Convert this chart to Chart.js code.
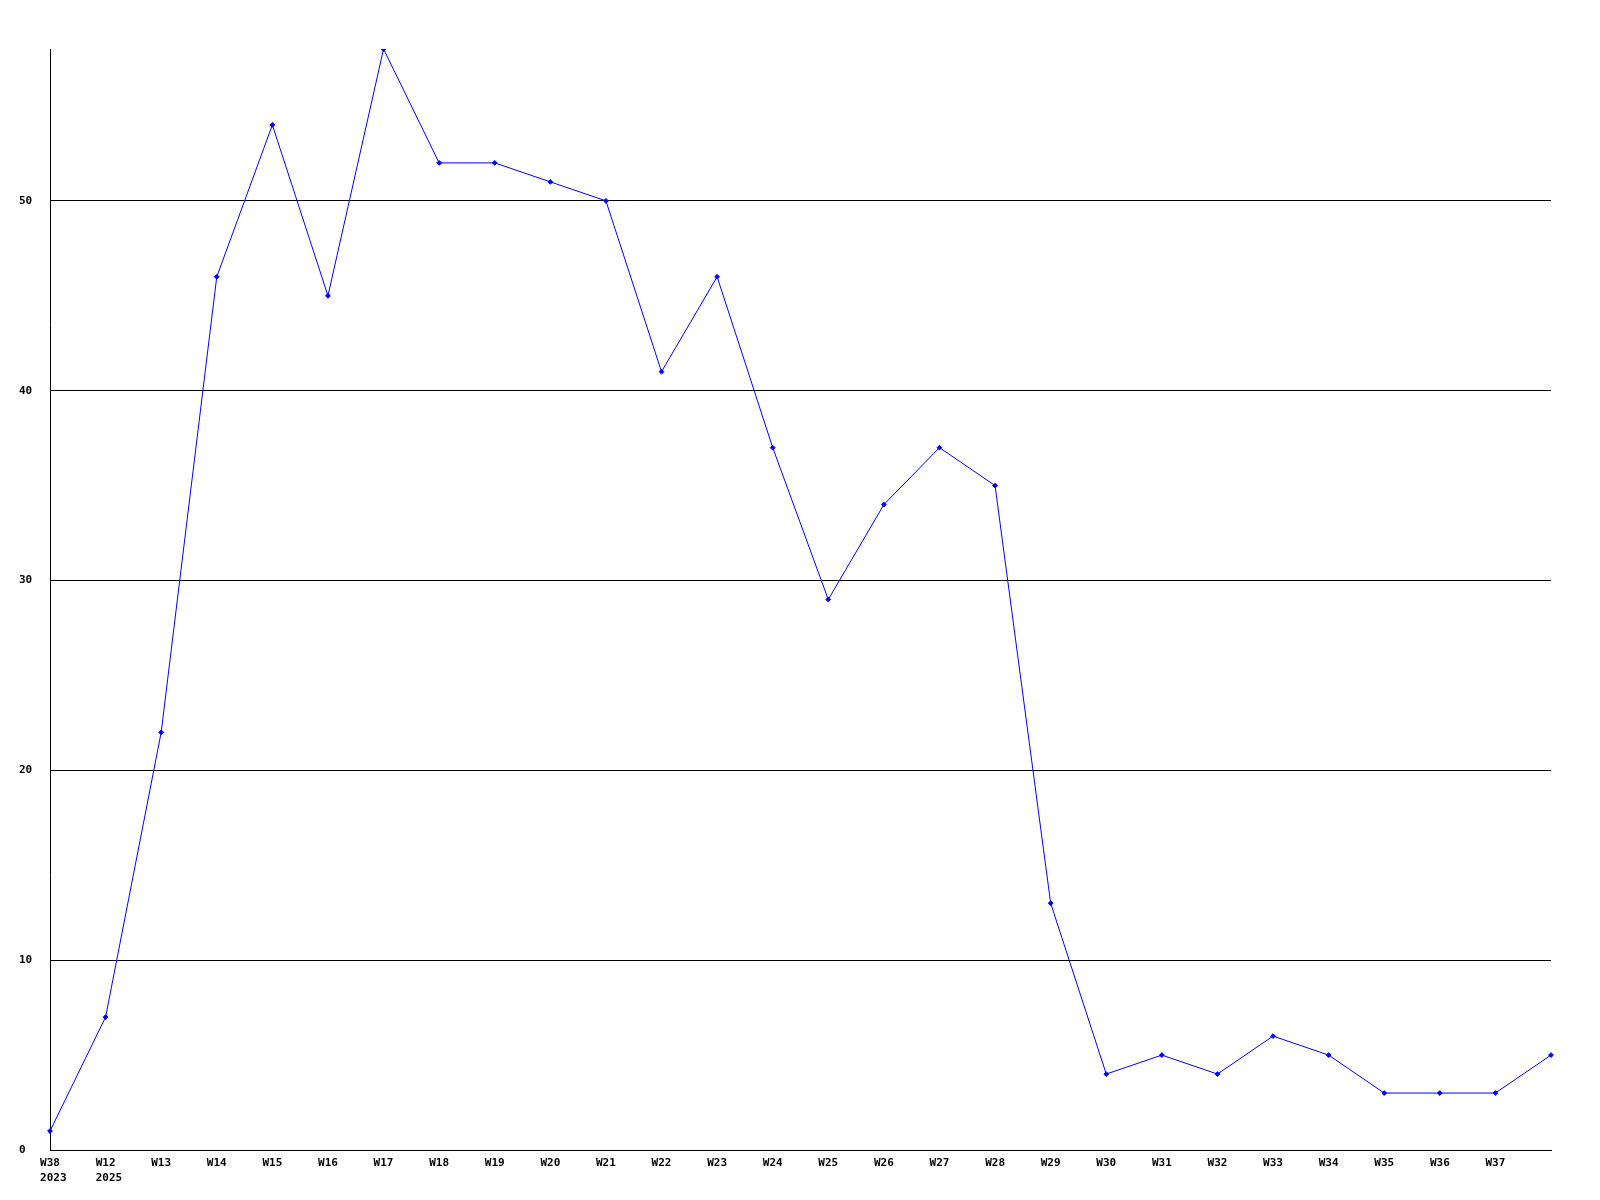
<!DOCTYPE html>
<html>
<head>
<meta charset="utf-8">
<script src="https://cdn.jsdelivr.net/npm/chart.js@4/dist/chart.umd.min.js"></script>
<style>
html,body{margin:0;padding:0;background:#fff;}
#wrap{width:1600px;height:1200px;position:relative;}
</style>
</head>
<body>
<div id="wrap"><canvas id="c" width="1600" height="1200"></canvas></div>
<script>
const categories = [
  ['W38',' 2023'], ['W12',' 2025'], 'W13','W14','W15','W16','W17','W18','W19','W20',
  'W21','W22','W23','W24','W25','W26','W27','W28','W29','W30',
  'W31','W32','W33','W34','W35','W36','W37',''
];
const values = [1,7,22,46,54,45,58,52,52,51,50,41,46,37,29,34,37,35,13,4,5,4,6,5,3,3,3,5];
const yTicks = [0,10,20,30,40,50];
const yMax = 58;

const tickFont = {family:'"DejaVu Sans Mono", monospace', size:11, weight:'bold', lineHeight:1.36};

new Chart(document.getElementById('c'), {
  type:'line',
  data:{
    labels:categories,
    datasets:[{
      data:values,
      borderColor:'#0000ff',
      backgroundColor:'#0000ff',
      borderWidth:1,
      pointStyle:'rectRot',
      pointRadius:2.4,
      pointBorderWidth:1,
      tension:0,
      fill:false
    }]
  },
  options:{
    responsive:false,
    animation:false,
    devicePixelRatio:1,
    layout:{padding:{left:19,top:49,right:49,bottom:0}},
    plugins:{legend:{display:false},tooltip:{enabled:false}},
    scales:{
      x:{
        type:'category',
        offset:false,
        grid:{display:false,drawTicks:false},
        border:{display:true,color:'#000',width:1},
        ticks:{color:'#000',font:tickFont,padding:6,maxRotation:0,autoSkip:false},
        afterFit:(s)=>{s.height=50;}
      },
      y:{
        min:0,max:yMax,
        afterBuildTicks:(s)=>{s.ticks = yTicks.map(v=>({value:v}));},
        grid:{color:'#000',lineWidth:1,drawTicks:false},
        border:{display:true,color:'#000',width:1},
        ticks:{color:'#000',font:tickFont,crossAlign:'far',padding:0},
        afterFit:(s)=>{s.width=31;}
      }
    }
  }
});
</script>
</body>
</html>
